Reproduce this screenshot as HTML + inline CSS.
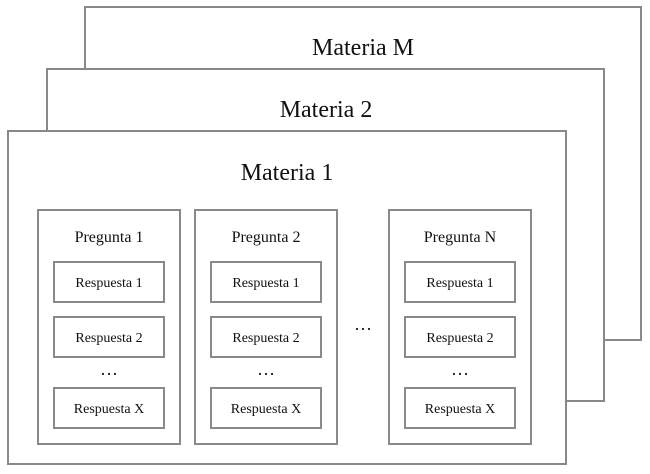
<!DOCTYPE html>
<html><head><meta charset="utf-8"><style>
html,body{margin:0;padding:0;background:#fff;}
svg{display:block;}
text{font-family:"Liberation Serif",serif;fill:#111;text-anchor:middle;}
</style></head><body>
<svg width="650" height="474" viewBox="0 0 650 474" xmlns="http://www.w3.org/2000/svg">
<g fill="#fff" stroke="#88898b" stroke-width="2">
<rect x="85" y="7" width="556" height="333"/>
<rect x="47" y="69" width="557" height="332"/>
<rect x="8" y="131" width="558" height="333"/>
<rect x="38" y="210" width="142" height="234"/>
<rect x="195" y="210" width="142" height="234"/>
<rect x="389" y="210" width="142" height="234"/>
<rect x="54" y="262" width="110" height="40"/>
<rect x="54" y="317" width="110" height="40"/>
<rect x="54" y="388" width="110" height="40"/>
<rect x="211" y="262" width="110" height="40"/>
<rect x="211" y="317" width="110" height="40"/>
<rect x="211" y="388" width="110" height="40"/>
<rect x="405" y="262" width="110" height="40"/>
<rect x="405" y="317" width="110" height="40"/>
<rect x="405" y="388" width="110" height="40"/>
</g>
<text x="363" y="55" font-size="24">Materia M</text>
<text x="326" y="117" font-size="24">Materia 2</text>
<text x="287" y="180" font-size="24">Materia 1</text>
<g font-size="16">
<text x="109" y="242">Pregunta 1</text>
<text x="266" y="242">Pregunta 2</text>
<text x="460" y="242">Pregunta N</text>
</g>
<g font-size="14">
<text x="109" y="287">Respuesta 1</text>
<text x="109" y="342">Respuesta 2</text>
<text x="109" y="413">Respuesta X</text>
<text x="266" y="287">Respuesta 1</text>
<text x="266" y="342">Respuesta 2</text>
<text x="266" y="413">Respuesta X</text>
<text x="460" y="287">Respuesta 1</text>
<text x="460" y="342">Respuesta 2</text>
<text x="460" y="413">Respuesta X</text>
</g>
<g font-size="18">
<text x="109" y="375">…</text>
<text x="266" y="375">…</text>
<text x="460" y="375">…</text>
<text x="363" y="330">…</text>
</g>
</svg>
</body></html>
